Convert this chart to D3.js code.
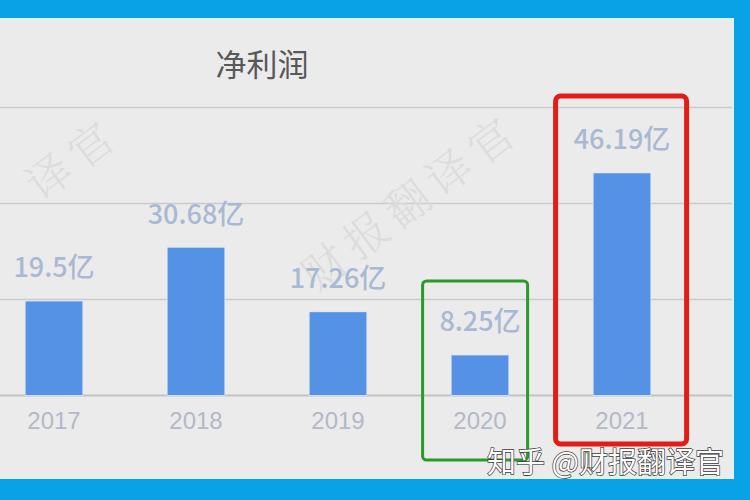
<!DOCTYPE html>
<html>
<head>
<meta charset="utf-8">
<script src="https://cdn.jsdelivr.net/npm/d3@7"></script>
<style>
html,body{margin:0;padding:0;background:#0aa2e6;}
svg{display:block;}
</style>
</head>
<body>
<svg id="chart" width="750" height="500"></svg>
<script>
const years = ["2017","2018","2019","2020","2021"];
const values = [19.5, 30.68, 17.26, 8.25, 46.19];
const valueLabels = ["19.5亿","30.68亿","17.26亿","8.25亿","46.19亿"];
const yTicks = [0, 20, 40, 60];
const title = "净利润";
const watermark = "知乎 @财报翻译官";
const diagMarks = ["译官", "财报翻译官"];

const svg = d3.select("#chart");
const W = 750, H = 500;

// frame
svg.append("rect").attr("x",0).attr("y",0).attr("width",W).attr("height",H).attr("fill","#0aa2e6");
svg.append("rect").attr("x",0).attr("y",18).attr("width",734).attr("height",461).attr("fill","#e0f3fb");
svg.append("rect").attr("x",0).attr("y",20).attr("width",732).attr("height",457).attr("fill","#ebebeb");

const x = d3.scaleBand().domain(years).range([-17, 693]).paddingInner(0.6).paddingOuter(0.3);
const y = d3.scaleLinear().domain([0, 60]).range([395, 107]);

// gridlines
const gy = svg.append("g")
  .call(d3.axisLeft(y).tickValues(yTicks).tickSize(-732).tickFormat(""));
gy.select(".domain").remove();
gy.selectAll(".tick line").attr("stroke","#cbcbcb").attr("stroke-width",1.5);
gy.selectAll(".tick").filter(d=>d===0).select("line").attr("stroke","#c2c2c2").attr("stroke-width",2);

// diagonal watermarks
const dm = [[124,140],[524,136]];
svg.append("g").selectAll("text").data(dm).join("text")
  .attr("transform",d=>`translate(${d[0]},${d[1]}) rotate(-37)`)
  .attr("text-anchor","end")
  .attr("font-family","'Noto Serif CJK SC','Noto Sans CJK SC',serif")
  .attr("font-size",44).attr("font-weight",300).attr("fill","#dcdcdc").attr("letter-spacing",8)
  .text((d,i)=>diagMarks[i]);

// title
svg.append("text").attr("x",262).attr("y",76).attr("text-anchor","middle")
  .attr("font-family","'Noto Sans CJK SC',sans-serif").attr("font-size",31)
  .attr("fill","#585858").text(title);

// bars
svg.append("g").selectAll("rect").data(values).join("rect")
  .attr("x",(d,i)=>x(years[i])).attr("width",x.bandwidth())
  .attr("y",d=>y(d)).attr("height",d=>y(0)-y(d))
  .attr("fill","#5592e6").attr("stroke","#d6e8f8").attr("stroke-width",1.5)
  .attr("paint-order","stroke");

// value labels
svg.append("g").selectAll("text").data(values).join("text")
  .attr("x",(d,i)=>x(years[i])+x.bandwidth()/2)
  .attr("y",d=>y(d)-24)
  .attr("text-anchor","middle")
  .attr("font-family","'Noto Sans CJK SC',sans-serif").attr("font-size",27).attr("font-weight",500)
  .attr("fill","#a9b9d3")
  .text((d,i)=>valueLabels[i]);

// x axis labels
const xa = svg.append("g").attr("transform",`translate(0,${y(0)})`)
  .call(d3.axisBottom(x).tickSize(0).tickPadding(14));
xa.select(".domain").remove();
xa.selectAll("text").attr("font-family","'Liberation Sans',Arial,sans-serif").attr("font-size",24)
  .attr("fill","#b3b9c6").attr("dy","0.85em");

// highlight boxes
svg.append("rect").attr("x",x("2020")-29).attr("y",281).attr("width",105).attr("height",179)
  .attr("rx",4).attr("fill","none").attr("stroke","#2a9b2a").attr("stroke-width",3);
svg.append("rect").attr("x",x("2021")-38).attr("y",96).attr("width",131).attr("height",348)
  .attr("rx",5).attr("fill","none").attr("stroke","#e21d17").attr("stroke-width",5);

// bottom watermark
svg.append("text").attr("x",487).attr("y",473)
  .attr("font-family","'Noto Sans CJK SC',sans-serif").attr("font-size",29)
  .attr("fill","#ffffff").attr("stroke","#3a3a3a").attr("stroke-width",1.4).attr("paint-order","stroke")
  .text(watermark);
</script>
</body>
</html>
